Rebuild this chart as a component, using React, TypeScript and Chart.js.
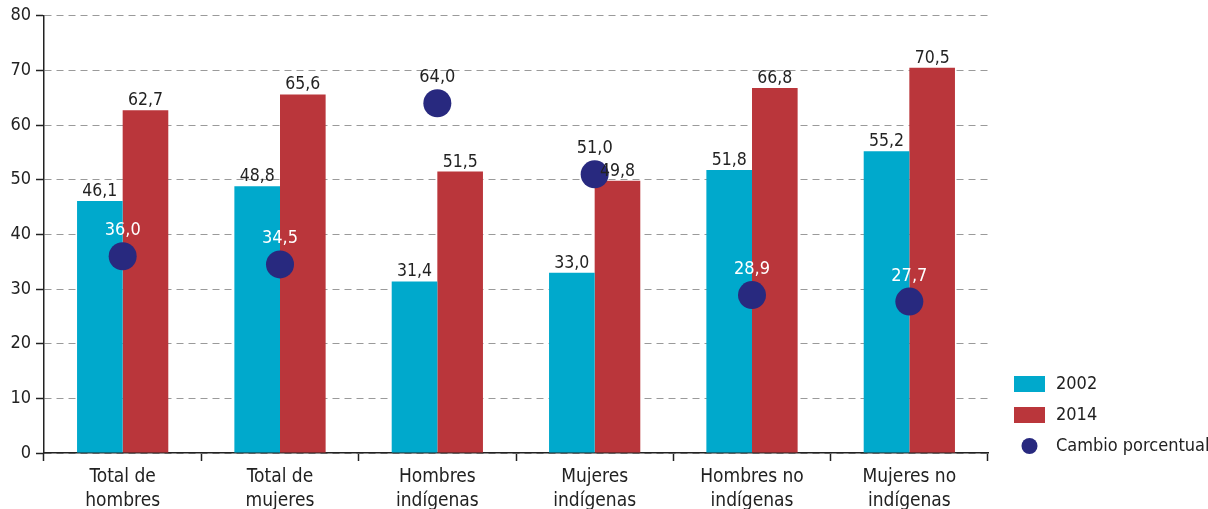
import { useEffect, useRef } from "react";
import { Chart, registerables } from "chart.js";

Chart.register(...registerables);

const categories: string[][] = [
  ["Total de", "hombres"],
  ["Total de", "mujeres"],
  ["Hombres", "indígenas"],
  ["Mujeres", "indígenas"],
  ["Hombres no", "indígenas"],
  ["Mujeres no", "indígenas"],
];
const values2002 = [46.1, 48.8, 31.4, 33.0, 51.8, 55.2];
const values2014 = [62.7, 65.6, 51.5, 49.8, 66.8, 70.5];
const cambio = [36.0, 34.5, 64.0, 51.0, 28.9, 27.7];
const seriesLabels = ["2002", "2014", "Cambio porcentual"];

const C2002 = "#00A9CC";
const C2014 = "#BA363B";
const CDOT = "#28297F";
const TEXT = "#222222";
const FONT =
  "'Liberation Sans Narrow', 'DejaVu Sans Condensed', 'Roboto Condensed', 'Arial Narrow', sans-serif";

const fmt = (v: number) => v.toFixed(1).replace(".", ",");

const valueLabels = {
  id: "valueLabels",
  afterDatasetsDraw(chart: any) {
    const ctx = chart.ctx;
    ctx.save();
    ctx.font = `17.5px ${FONT}`;
    ctx.textAlign = "center";
    ctx.textBaseline = "alphabetic";
    const barData = [values2002, values2014];
    [0, 1].forEach((di) => {
      const meta = chart.getDatasetMeta(di);
      meta.data.forEach((el: any, j: number) => {
        ctx.fillStyle = TEXT;
        ctx.fillText(fmt(barData[di][j]), el.x, el.y - 5);
      });
    });
    const meta = chart.getDatasetMeta(2);
    ctx.font = `18px ${FONT}`;
    meta.data.forEach((el: any, j: number) => {
      const inside = cambio[j] + 5 < values2002[j];
      ctx.fillStyle = inside ? "#ffffff" : TEXT;
      ctx.fillText(fmt(cambio[j]), el.x, el.y - 21);
    });
    ctx.restore();
  },
};

const sideLegend = {
  id: "sideLegend",
  afterDraw(chart: any) {
    const ctx = chart.ctx;
    const { right, bottom } = chart.chartArea;
    const x0 = right + 26;
    const rows = [bottom - 69, bottom - 38, bottom - 7];
    ctx.save();
    ctx.font = `18px ${FONT}`;
    ctx.textAlign = "left";
    ctx.textBaseline = "middle";
    const colors = [C2002, C2014];
    rows.forEach((cy, i) => {
      if (i < 2) {
        ctx.fillStyle = colors[i];
        ctx.fillRect(x0, cy - 8, 31, 16);
      } else {
        ctx.fillStyle = CDOT;
        ctx.beginPath();
        ctx.arc(x0 + 15.5, cy, 8, 0, Math.PI * 2);
        ctx.fill();
      }
      ctx.fillStyle = TEXT;
      ctx.fillText(seriesLabels[i], x0 + 42, cy);
    });
    ctx.restore();
  },
};

export default function App() {
  const ref = useRef<HTMLCanvasElement | null>(null);

  useEffect(() => {
    if (!ref.current) return;
    Chart.defaults.font.family = FONT;
    Chart.defaults.color = TEXT;
    const chart = new Chart(ref.current, {
      type: "bar",
      data: {
        labels: categories,
        datasets: [
          {
            label: seriesLabels[0],
            data: values2002,
            backgroundColor: C2002,
            borderWidth: 0,
            order: 1,
            categoryPercentage: 0.58,
            barPercentage: 1,
          } as any,
          {
            label: seriesLabels[1],
            data: values2014,
            backgroundColor: C2014,
            borderWidth: 0,
            order: 1,
            categoryPercentage: 0.58,
            barPercentage: 1,
          } as any,
          {
            type: "line",
            label: seriesLabels[2],
            data: cambio,
            showLine: false,
            pointRadius: 14,
            pointHoverRadius: 14,
            pointBackgroundColor: CDOT,
            pointBorderColor: CDOT,
            pointBorderWidth: 0,
            order: 0,
          } as any,
        ],
      },
      options: {
        animation: false,
        responsive: true,
        maintainAspectRatio: false,
        layout: { padding: { top: 4, right: 220, left: 0, bottom: 0 } },
        plugins: {
          legend: { display: false },
          tooltip: { enabled: false },
        },
        scales: {
          x: {
            offset: true,
            grid: {
              offset: true,
              drawOnChartArea: false,
              tickLength: 8,
              tickColor: TEXT,
              tickWidth: 1.5,
            },
            border: { color: TEXT, width: 1.5 },
            ticks: {
              font: { size: 19, lineHeight: 1.25 },
              color: TEXT,
              padding: 4,
              maxRotation: 0,
              autoSkip: false,
            },
            afterFit: (s: any) => {
              s.height = 56;
            },
          },
          y: {
            min: 0,
            max: 80,
            grid: {
              color: "#9a9a9a",
              lineWidth: 1,
              tickLength: 8,
              tickColor: TEXT,
              tickWidth: 1.5,
            },
            border: { color: TEXT, width: 1.5, dash: [7, 5] },
            ticks: {
              stepSize: 10,
              font: { size: 18 },
              color: TEXT,
              padding: 5,
            },
            afterFit: (s: any) => {
              s.width = 44;
            },
          },
        },
      },
      plugins: [valueLabels, sideLegend],
    });
    return () => chart.destroy();
  }, []);

  return (
    <div
      style={{
        position: "fixed",
        left: 0,
        top: 0,
        width: 1208,
        height: 509,
        background: "#ffffff",
      }}
    >
      <canvas ref={ref} />
    </div>
  );
}
